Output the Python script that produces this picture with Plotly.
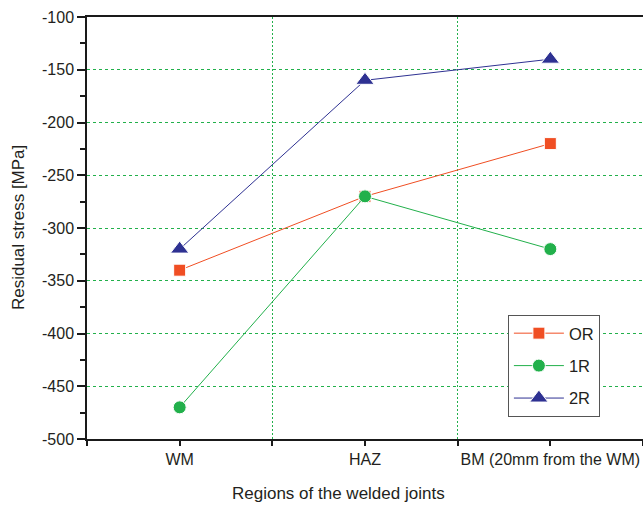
import plotly.graph_objects as go

categories = ["WM", "HAZ", "BM (20mm from the WM)"]
series_names = ["OR", "1R", "2R"]
or_values = [-340, -270, -220]
r1_values = [-470, -270, -320]
r2_values = [-320, -160, -140]
y_ticks = [-500, -450, -400, -350, -300, -250, -200, -150, -100]
y_tick_labels = ["-500", "-450", "-400", "-350", "-300", "-250", "-200", "-150", "-100"]

colors = ["#F04E23", "#22B04B", "#2E3192"]
symbols = ["square", "circle", "triangle-up"]
sizes = [12, 13, 16]
FONT = "Liberation Sans, Arial, sans-serif"
TXT = "#231F20"
GRID = "#22B04B"

x = list(range(len(categories)))
fig = go.Figure()
for name, vals, c, s, sz in zip(series_names, [or_values, r1_values, r2_values], colors, symbols, sizes):
    fig.add_trace(go.Scatter(
        x=x, y=vals, name=name, mode="lines+markers", legendgroup=name,
        line=dict(color=c, width=1),
        marker=dict(symbol=s, size=sz, color=c, line=dict(color="white", width=1)),
    ))

fig.update_layout(
    width=643, height=505,
    margin=dict(l=87, r=0, t=17, b=66),
    paper_bgcolor="white", plot_bgcolor="white",
    font=dict(family=FONT, size=16, color=TXT),
    showlegend=True,
    legend=dict(
        x=0.757, y=0.294, xanchor="left", yanchor="top",
        bordercolor="#555555", borderwidth=1, bgcolor="white",
        font=dict(size=16.5, color=TXT), itemwidth=50,
        tracegroupgap=8, traceorder="grouped",
    ),
    xaxis=dict(
        range=[-0.5, 2.5], tickmode="array", tickvals=x, ticktext=categories,
        showgrid=False, zeroline=False,
        showline=True, linecolor="#1a1a1a", linewidth=1.5, mirror=True,
        ticks="outside", ticklen=5, tickcolor="#1a1a1a", tickwidth=1.5,
        tickfont=dict(size=16),
        minor=dict(tick0=0.5, dtick=1, ticks="outside", ticklen=5, tickcolor="#1a1a1a",
                   tickwidth=1.5, showgrid=True, gridcolor=GRID, griddash="2px,2px", gridwidth=1),
    ),
    yaxis=dict(
        range=[-500, -100], tickmode="array", tickvals=y_ticks, ticktext=y_tick_labels,
        showgrid=True, gridcolor=GRID, griddash="3px,3px", gridwidth=1.2,
        zeroline=False,
        showline=True, linecolor="#1a1a1a", linewidth=1.5, mirror=False,
        ticks="outside", ticklen=8, tickcolor="#1a1a1a", tickwidth=1.5,
        tickfont=dict(size=16),
        minor=dict(tick0=-125, dtick=50, ticks="outside", ticklen=5, tickcolor="#1a1a1a",
                   tickwidth=1.5, showgrid=False),
    ),
    annotations=[
        dict(text="Regions of the welded joints", xref="paper", yref="paper",
             x=0.453, y=-0.128, xanchor="center", yanchor="middle", showarrow=False,
             font=dict(size=17, color=TXT)),
        dict(text="Residual stress [MPa]", xref="paper", yref="paper",
             x=-0.124, y=0.5, xanchor="center", yanchor="middle", showarrow=False,
             textangle=-90, font=dict(size=17, color=TXT)),
    ],
)

fig.write_html("out.html")
